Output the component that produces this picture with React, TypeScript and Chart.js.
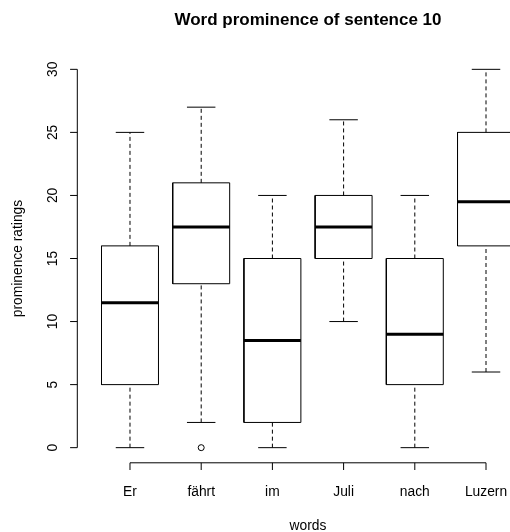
import React, { useEffect, useRef } from "react";
import { Chart, registerables } from "chart.js";

Chart.register(...registerables);

const categories = ["Er", "fährt", "im", "Juli", "nach", "Luzern"];
const whiskerLow = [0, 2, 0, 10, 0, 6];
const q1 = [5, 13, 2, 15, 5, 16];
const medians = [11.5, 17.5, 8.5, 17.5, 9, 19.5];
const q3 = [16, 21, 15, 20, 15, 25];
const whiskerHigh = [25, 27, 20, 26, 20, 30];
const outliers: { group: number; value: number }[] = [{ group: 2, value: 0 }];
const yTicks = [0, 5, 10, 15, 20, 25, 30];

const title = "Word prominence of sentence 10";
const xTitle = "words";
const yTitle = "prominence ratings";

const FONT = '"Liberation Sans", Arial, Helvetica, sans-serif';
const BOX_HALF = 0.4;
const CAP_HALF = 0.2;

type P = { x: number; y: number | null };

function buildBoxes(): P[] {
  const pts: P[] = [];
  categories.forEach((_, k) => {
    const i = k + 1;
    pts.push({ x: i - BOX_HALF, y: q1[k] });
    pts.push({ x: i + BOX_HALF, y: q1[k] });
    pts.push({ x: i + BOX_HALF, y: q3[k] });
    pts.push({ x: i - BOX_HALF, y: q3[k] });
    pts.push({ x: i - BOX_HALF, y: q1[k] });
    pts.push({ x: i + 0.5, y: null });
  });
  return pts;
}

function buildMedians(): P[] {
  const pts: P[] = [];
  categories.forEach((_, k) => {
    const i = k + 1;
    pts.push({ x: i - BOX_HALF, y: medians[k] });
    pts.push({ x: i + BOX_HALF, y: medians[k] });
    pts.push({ x: i + 0.5, y: null });
  });
  return pts;
}

function buildCaps(): P[] {
  const pts: P[] = [];
  categories.forEach((_, k) => {
    const i = k + 1;
    pts.push({ x: i - CAP_HALF, y: whiskerLow[k] });
    pts.push({ x: i + CAP_HALF, y: whiskerLow[k] });
    pts.push({ x: i + 0.3, y: null });
    pts.push({ x: i - CAP_HALF, y: whiskerHigh[k] });
    pts.push({ x: i + CAP_HALF, y: whiskerHigh[k] });
    pts.push({ x: i + 0.5, y: null });
  });
  return pts;
}

function buildStems(): P[] {
  const pts: P[] = [];
  categories.forEach((_, k) => {
    const i = k + 1;
    pts.push({ x: i, y: whiskerLow[k] });
    pts.push({ x: i, y: q1[k] });
    pts.push({ x: i + 0.1, y: null });
    pts.push({ x: i, y: q3[k] });
    pts.push({ x: i, y: whiskerHigh[k] });
    pts.push({ x: i + 0.5, y: null });
  });
  return pts;
}

const axesPlugin = {
  id: "rAxes",
  afterDraw(chart: any) {
    const ctx: CanvasRenderingContext2D = chart.ctx;
    const xs = chart.scales.x;
    const ys = chart.scales.y;
    ctx.save();
    ctx.strokeStyle = "#000";
    ctx.fillStyle = "#000";
    ctx.lineWidth = 1;

    // y axis
    const ax = 77.3;
    ctx.beginPath();
    ctx.moveTo(ax, ys.getPixelForValue(yTicks[0]));
    ctx.lineTo(ax, ys.getPixelForValue(yTicks[yTicks.length - 1]));
    yTicks.forEach((t) => {
      const py = ys.getPixelForValue(t);
      ctx.moveTo(ax, py);
      ctx.lineTo(ax - 7.2, py);
    });
    ctx.stroke();
    ctx.font = `13.8px ${FONT}`;
    ctx.textAlign = "center";
    ctx.textBaseline = "alphabetic";
    yTicks.forEach((t) => {
      const py = ys.getPixelForValue(t);
      ctx.save();
      ctx.translate(57, py);
      ctx.rotate(-Math.PI / 2);
      ctx.fillText(String(t), 0, 0);
      ctx.restore();
    });

    // x axis
    const ay = chart.chartArea.bottom;
    ctx.beginPath();
    ctx.moveTo(xs.getPixelForValue(1), ay);
    ctx.lineTo(xs.getPixelForValue(categories.length), ay);
    categories.forEach((_, k) => {
      const px = xs.getPixelForValue(k + 1);
      ctx.moveTo(px, ay);
      ctx.lineTo(px, ay + 7.2);
    });
    ctx.stroke();
    categories.forEach((c, k) => {
      const px = xs.getPixelForValue(k + 1);
      ctx.fillText(c, px, 495.5);
    });

    const cx = (chart.chartArea.left + chart.chartArea.right) / 2;
    ctx.fillText(xTitle, cx, 530);

    ctx.save();
    ctx.translate(21.5, (chart.chartArea.top + chart.chartArea.bottom) / 2);
    ctx.rotate(-Math.PI / 2);
    ctx.fillText(yTitle, 0, 0);
    ctx.restore();

    ctx.font = `bold 17px ${FONT}`;
    ctx.fillText(title, cx, 24.5);
    ctx.restore();
  },
};

export default function App() {
  const ref = useRef<HTMLCanvasElement | null>(null);
  useEffect(() => {
    if (!ref.current) return;
    const lineBase = {
      type: "line" as const,
      showLine: true,
      pointRadius: 0,
      borderColor: "#000",
      borderWidth: 1,
      tension: 0,
      spanGaps: false,
      fill: false,
    };
    const chart = new Chart(ref.current, {
      type: "line",
      data: {
        datasets: [
          { ...lineBase, data: buildMedians(), borderWidth: 3, borderCapStyle: "butt" } as any,
          { ...lineBase, data: buildBoxes(), borderJoinStyle: "miter" } as any,
          { ...lineBase, data: buildCaps() } as any,
          { ...lineBase, data: buildStems(), borderDash: [4, 3] } as any,
          {
            type: "scatter",
            data: outliers.map((o) => ({ x: o.group, y: o.value })),
            showLine: false,
            pointRadius: 3,
            pointStyle: "circle",
            backgroundColor: "#fff",
            borderColor: "#000",
            borderWidth: 1,
          } as any,
        ],
      },
      options: {
        animation: false,
        responsive: false,
        events: [],
        layout: { padding: { left: 77.3, right: 21.3, top: 54.2, bottom: 69.2 } },
        plugins: { legend: { display: false }, tooltip: { enabled: false }, title: { display: false } },
        scales: {
          x: { type: "linear", min: 0.26, max: 6.74, display: false },
          y: { type: "linear", min: -1.2, max: 31.2, display: false },
        },
      },
      plugins: [axesPlugin],
    });
    return () => chart.destroy();
  }, []);
  return (
    <div style={{ position: "absolute", left: 0, top: 0, width: 510, height: 532, overflow: "hidden", background: "#fff" }}>
      <canvas ref={ref} width={560} height={532} style={{ width: 560, height: 532, display: "block" }} />
    </div>
  );
}
